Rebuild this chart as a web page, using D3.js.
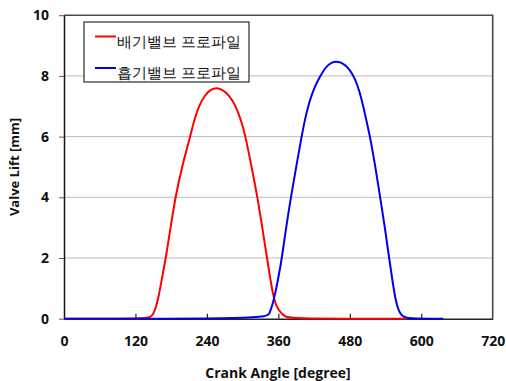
<!DOCTYPE html>
<html>
<head>
<meta charset="utf-8">
<script src="https://cdn.jsdelivr.net/npm/d3@7"></script>
<style>
  body { margin: 0; background: #fff; }
  text { font-family: "Open Sans", "Noto Sans", sans-serif; }
</style>
</head>
<body>
<svg id="chart" width="506" height="381"></svg>
<script>
// exhaust valve profile (red) [crank angle, lift mm]
const exhaustAngle = [0, 136, 145, 150, 154, 158, 162, 166, 171, 179, 187, 198, 212, 218, 227, 237, 246, 256,
  266, 277, 288, 298, 305, 315, 325, 333, 341, 347, 351, 355, 360, 366, 373, 382, 575];
const exhaustLift = [0, 0, 0.05, 0.15, 0.35, 0.65, 1.05, 1.5, 2.0, 3.0, 4.0, 5.0, 6.0, 6.5, 7.04, 7.37, 7.55, 7.61,
  7.55, 7.37, 7.04, 6.5, 6.0, 5.0, 4.0, 3.0, 2.0, 1.25, 0.8, 0.5, 0.3, 0.15, 0.06, 0, 0];

// intake valve profile (blue)
const intakeAngle = [0, 339, 345, 350, 355, 360, 366, 373, 381, 390, 399, 405, 412, 420, 429, 442, 457,
  472, 488, 500, 507, 514, 523, 531, 539, 546, 552, 557, 562, 568, 576, 637];
const intakeLift = [0, 0, 0.15, 0.45, 0.85, 1.35, 2.0, 3.0, 4.0, 5.0, 6.0, 6.6, 7.15, 7.6, 7.95, 8.38, 8.51,
  8.4, 8.0, 7.25, 6.6, 6.0, 5.0, 4.0, 3.0, 2.0, 1.2, 0.6, 0.25, 0.08, 0, 0];

const xTicks = [0, 120, 240, 360, 480, 600, 720];
const yTicks = [0, 2, 4, 6, 8, 10];
const seriesNames = ["배기밸브 프로파일", "흡기밸브 프로파일"];
const seriesColors = ["#ff0000", "#0000ee"];

const svg = d3.select("#chart");
const L = 64, R = 492.7, T = 15.2, B = 318.7;

const x = d3.scaleLinear().domain([0, 720]).range([L, R]);
const y = d3.scaleLinear().domain([0, 10]).range([B, T]);

// gridlines
svg.append("g")
  .selectAll("line")
  .data(yTicks.filter(d => d > 0 && d < 10))
  .enter()
  .append("line")
  .attr("x1", L).attr("x2", R)
  .attr("y1", d => y(d)).attr("y2", d => y(d))
  .attr("stroke", "#bdbdbd")
  .attr("stroke-width", 1);

// plot border (top/right)
svg.append("path")
  .attr("d", `M${L},${T}H${R}V${B}`)
  .attr("fill", "none")
  .attr("stroke", "#4a4a4a")
  .attr("stroke-width", 1.6);

// x axis
const xAxis = svg.append("g")
  .attr("transform", `translate(0,${B})`)
  .call(d3.axisBottom(x).tickValues(xTicks).tickSizeInner(-5).tickSizeOuter(0).tickPadding(17));
xAxis.select(".domain").attr("stroke", "#222").attr("stroke-width", 1.5);
xAxis.selectAll(".tick line").attr("stroke", "#222").attr("stroke-width", 1.2)
  .attr("display", d => (d === 0 || d === 720) ? "none" : null);
xAxis.selectAll("text")
  .attr("font-size", 14).attr("font-weight", "bold").attr("fill", "#111")
  .attr("font-family", "Open Sans");

// y axis
const yAxis = svg.append("g")
  .attr("transform", `translate(${L},0)`)
  .call(d3.axisLeft(y).tickValues(yTicks).tickSizeInner(5).tickSizeOuter(0).tickPadding(10));
yAxis.select(".domain").attr("stroke", "#111").attr("stroke-width", 1.5);
yAxis.selectAll(".tick line").attr("stroke", "#555").attr("stroke-width", 1);
yAxis.selectAll("text")
  .attr("font-size", 14).attr("font-weight", "bold").attr("fill", "#111")
  .attr("font-family", "Open Sans");

// curves (b-spline keeps the flat parts flat)
const line = d3.line()
  .x(d => x(d[0]))
  .y(d => y(d[1]))
  .curve(d3.curveBasis);

const series = [
  d3.zip(exhaustAngle, exhaustLift),
  d3.zip(intakeAngle, intakeLift)
];

svg.append("g")
  .selectAll("path")
  .data(series)
  .enter()
  .append("path")
  .attr("d", line)
  .attr("fill", "none")
  .attr("stroke", (d, i) => seriesColors[i])
  .attr("stroke-width", 2);

// axis titles
svg.append("text")
  .attr("x", 278).attr("y", 378)
  .attr("text-anchor", "middle")
  .attr("font-size", 14).attr("font-weight", "bold").attr("fill", "#111")
  .text("Crank Angle [degree]");

svg.append("text")
  .attr("transform", `translate(19,167) rotate(-90)`)
  .attr("text-anchor", "middle")
  .attr("font-size", 13).attr("font-weight", "bold").attr("fill", "#111")
  .text("Valve Lift [mm]");

// legend
const legend = svg.append("g");
legend.append("rect")
  .attr("x", 84).attr("y", 22).attr("width", 165).attr("height", 60)
  .attr("fill", "#fff").attr("stroke", "#000").attr("stroke-width", 1);

const rowY = [36.5, 68];
const item = legend.selectAll(".item")
  .data(seriesNames)
  .enter()
  .append("g");
item.append("line")
  .attr("x1", 95).attr("x2", 116)
  .attr("y1", (d, i) => rowY[i]).attr("y2", (d, i) => rowY[i])
  .attr("stroke", (d, i) => seriesColors[i])
  .attr("stroke-width", 2);
item.append("text")
  .attr("x", 117)
  .attr("y", (d, i) => rowY[i] + 10)
  .attr("font-family", "Noto Sans CJK KR")
  .attr("font-weight", 500)
  .attr("font-size", 14.5)
  .attr("fill", "#111")
  .text(d => d);
</script>
</body>
</html>
